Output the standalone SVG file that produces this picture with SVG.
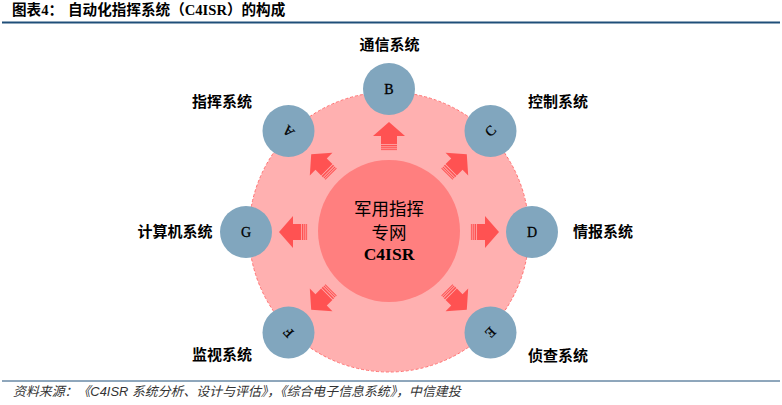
<svg xmlns="http://www.w3.org/2000/svg" xmlns:xlink="http://www.w3.org/1999/xlink" width="782" height="405" viewBox="0 0 782 405">
<style>
.title{font-family:"Liberation Serif","Noto Sans CJK SC",serif;font-size:14.6px;font-weight:bold;fill:#000}
.foot{font-family:"Liberation Sans","Noto Sans CJK SC",sans-serif;font-size:12.9px;font-style:italic;fill:#333}
.lbl{font-family:"Liberation Serif","Noto Sans CJK SC",serif;font-size:15px;font-weight:bold;fill:#000;text-anchor:middle;dominant-baseline:central}
.node{fill:#81A6BE}
.letter{font-family:"Liberation Serif",serif;font-size:14px;fill:#000;stroke:#000;stroke-width:0.3;text-anchor:middle;dominant-baseline:central}
.ctr{font-family:"Liberation Serif","Noto Sans CJK SC",serif;font-size:17.5px;fill:#000;text-anchor:middle;dominant-baseline:central}
.arr{fill:#FF5252}
</style>
<defs>
<g id="arrow">
<path class="arr" d="M0,-110 L16,-96 L8,-96 L8,-88 L-8,-88 L-8,-96 L-16,-96 Z"/>
<rect class="arr" x="-8" y="-87.2" width="16" height="1.6"/>
<rect class="arr" x="-8" y="-84.8" width="16" height="1.2"/>
<rect class="arr" x="-8" y="-82.8" width="16" height="0.9"/>
</g>
</defs>
<rect width="782" height="405" fill="#fff"/>
<text class="title" x="12" y="15">图表4：</text>
<text class="title" x="68" y="15">自动化指挥系统（C4ISR）的构成</text>
<line x1="2" y1="22.5" x2="780" y2="22.5" stroke="#1F4E79" stroke-width="2"/>
<g id="background">
<circle cx="389" cy="232" r="140" fill="#FFB0B0" stroke="#FF7070" stroke-width="1" stroke-dasharray="3,2"/>
</g>
<g id="hub">
<circle cx="389" cy="231" r="71" fill="#FF7F7F"/>
<text class="ctr" x="389" y="209">军用指挥</text>
<text class="ctr" x="389" y="233">专网</text>
<text class="ctr" x="389" y="254" font-weight="bold">C4ISR</text>
</g>
<g id="connectors">
<use xlink:href="#arrow" transform="translate(389,232) rotate(0)"/>
<use xlink:href="#arrow" transform="translate(389,232) rotate(45)"/>
<use xlink:href="#arrow" transform="translate(389,232) rotate(90)"/>
<use xlink:href="#arrow" transform="translate(389,232) rotate(135)"/>
<use xlink:href="#arrow" transform="translate(389,232) rotate(-135)"/>
<use xlink:href="#arrow" transform="translate(389,232) rotate(-90)"/>
<use xlink:href="#arrow" transform="translate(389,232) rotate(-45)"/>
</g>
<g id="nodeB"><circle class="node" cx="389" cy="89" r="26"/><text class="letter" x="389" y="89">B</text><text class="lbl" x="389.5" y="45">通信系统</text></g>
<g id="nodeA"><circle class="node" cx="288.5" cy="131" r="26"/><text class="letter" x="288.5" y="131" transform="rotate(-135 288.5 131)">A</text><text class="lbl" x="222" y="102">指挥系统</text></g>
<g id="nodeC"><circle class="node" cx="490.5" cy="131" r="26"/><text class="letter" x="490.5" y="131" transform="rotate(-45 490.5 131)">C</text><text class="lbl" x="558" y="102">控制系统</text></g>
<g id="nodeD"><circle class="node" cx="532" cy="232" r="26"/><text class="letter" x="532" y="232">D</text><text class="lbl" x="603" y="232">情报系统</text></g>
<g id="nodeE"><circle class="node" cx="490.5" cy="332.5" r="26"/><text class="letter" x="490.5" y="332.5" transform="rotate(135 490.5 332.5)">E</text><text class="lbl" x="558" y="356">侦查系统</text></g>
<g id="nodeF"><circle class="node" cx="288.5" cy="332.5" r="26"/><text class="letter" x="288.5" y="332.5" transform="rotate(-135 288.5 332.5)">F</text><text class="lbl" x="222" y="355">监视系统</text></g>
<g id="nodeG"><circle class="node" cx="246" cy="232" r="26"/><text class="letter" x="246" y="232">G</text><text class="lbl" x="175" y="232">计算机系统</text></g>
<line x1="2" y1="381" x2="780" y2="381" stroke="#1F4E79" stroke-width="1"/>
<text class="foot" x="13" y="396">资料来源：《C4ISR 系统分析、设计与评估》，《综合电子信息系统》，中信建投</text>
</svg>
